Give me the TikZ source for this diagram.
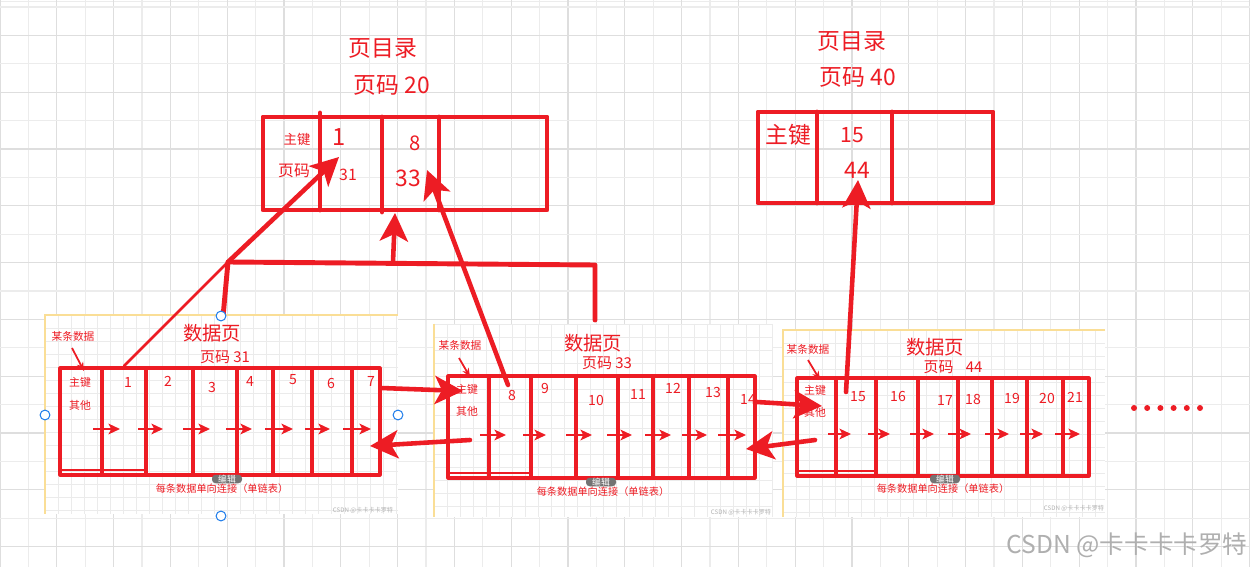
\documentclass[tikz,border=0pt]{standalone}
\usepackage{fontspec}
\setmainfont{Noto Sans CJK SC}
\usetikzlibrary{arrows.meta,positioning}
\definecolor{pen}{RGB}{237,28,36}
\definecolor{gridlight}{RGB}{236,236,236}
\definecolor{griddark}{RGB}{222,222,222}
\definecolor{panelgrid}{RGB}{235,235,235}
\definecolor{panelrim}{RGB}{250,222,150}
\definecolor{handleblue}{RGB}{40,130,235}
\definecolor{credit}{RGB}{175,175,175}
\newcommand{\fs}[1]{\fontsize{#1}{#1}\selectfont}

\begin{document}
\begin{tikzpicture}[
    x=0.02cm, y=-0.02cm,
    lbl/.style={text=pen, inner sep=0pt, font=\fs{#1}},
    dirline/.style={draw=pen, line width=2.8pt, line join=round, line cap=round},
    cellline/.style={draw=pen, line width=1.8pt, line join=round},
    bigarrow/.style={draw=pen, line width=2.6pt, line cap=round, -{Stealth[length=16pt, width=16pt, inset=4pt]}},
    linkarrow/.style={draw=pen, line width=1.3pt, -{Stealth[length=6.5pt, width=6pt, inset=1.5pt]}},
    pointer/.style={draw=pen, line width=1pt, -{Stealth[length=5pt, width=4pt]}},
    editbtn/.style={fill=black!55, text=white, rounded corners=2pt, inner sep=0pt, minimum width=0.6cm, minimum height=0.17cm, font=\fs{5}},
    handle/.style={draw=handleblue, fill=white, line width=0.6pt},
    tinymark/.style={text=black!30, inner sep=0pt, font=\fs{3.5}}
]
\useasboundingbox (0,0) rectangle (1250,567);
\fill[white] (0,0) rectangle (1250,567);

% whiteboard grid
\draw[gridlight, line width=0.6pt] (0,1.5) -- (1250,1.5);
\foreach \i in {0,...,44}
  \draw[gridlight, line width=0.6pt] (\i*28.4,0) -- (\i*28.4,567);
\foreach \i in {0,2,...,44}
  \draw[griddark, line width=0.6pt] (\i*28.4,0) -- (\i*28.4,567);
\foreach \j in {0,...,20}
  \draw[gridlight, line width=0.6pt] (0,7+\j*28.4) -- (1250,7+\j*28.4);
\foreach \j in {1,3,...,19}
  \draw[griddark, line width=0.6pt] (0,7+\j*28.4) -- (1250,7+\j*28.4);

% pasted data page panels
\foreach \l/\t/\r/\b in {45/315/398/514, 434/324/773/517, 783/330/1105/517} {
  \fill[white] (\l,\t) rectangle (\r,\b);
  \begin{scope}
    \clip (\l,\t) rectangle (\r,\b);
    \foreach \k in {0,...,28}
      \draw[panelgrid, line width=0.5pt] (\l+\k*13,\t) -- (\l+\k*13,\b);
    \foreach \k in {0,...,16}
      \draw[panelgrid, line width=0.5pt] (\l,\t+\k*13) -- (\r,\t+\k*13);
  \end{scope}
}
\draw[panelrim, line width=0.8pt] (398,315) -- (45,315) -- (45,514);
\draw[panelrim, line width=0.8pt] (434,324) -- (434,517);
\draw[panelrim, line width=0.8pt] (1105,330) -- (783,330) -- (783,517);

% page directory, page 20
\node[lbl=13] (dir20title) at (383,48) {页目录};
\node[lbl=13] (dir20code) at (392,85) {页码 20};
\draw[dirline] (263,117) rectangle (547,210);
\draw[dirline] (320,113) -- (320,210);
\draw[dirline] (382,117) -- (382,212);
\draw[dirline] (439,117) -- (439,210);
\node[lbl=7.6] (dir20key) at (297,139) {主键};
\node[lbl=9] (dir20page) at (294,171) {页码};
\node[lbl=13.5] (dir20k1) at (339,137) {1};
\node[lbl=9] (dir20p1) at (348,175) {31};
\node[lbl=11.5] (dir20k2) at (415,143) {8};
\node[lbl=13] (dir20p2) at (408,178) {33};

% page directory, page 40
\node[lbl=13] (dir40title) at (852,41) {页目录};
\node[lbl=13] (dir40code) at (858,77) {页码 40};
\draw[dirline] (758,112) rectangle (993,203);
\draw[dirline] (817,112) -- (817,203);
\draw[dirline] (892,112) -- (892,203);
\node[lbl=13] (dir40key) at (788,135) {主键};
\node[lbl=12] (dir40k1) at (852,135) {15};
\node[lbl=13] (dir40p1) at (857,170) {44};

% data page 31
\node[lbl=6.1] (p31note) at (73,336) {某条数据};
\node[lbl=11] (p31title) at (212,333) {数据页};
\node[lbl=8.5] (p31code) at (225,357) {页码 31};
\draw[cellline] (60,368) rectangle (380,475);
\foreach \x in {102,146,193,237,273,312,352}
  \draw[cellline] (\x,368) -- (\x,473);
\draw[pen, line width=1pt] (60,470) -- (146,470);
\node[lbl=6.2] (p31key) at (80,382) {主键};
\node[lbl=6.2] (p31other) at (80,405) {其他};
\foreach \n/\x/\y in {1/128/382, 2/168/381, 3/212/387, 4/250/381, 5/293/380, 6/331/383, 7/371/381}
  \node[lbl=8] (p31n\n) at (\x,\y) {\n};
\foreach \a/\b in {93/120, 138/163, 183/210, 226/252, 265/293, 305/330, 343/371}
  \draw[linkarrow] (\a,429) -- (\b,429);
\draw[pointer] (72,348) -- (84,371);
\node[lbl=5.8] (p31chain) at (222,489) {每条数据单向连接（单链表）};
\node[editbtn] (p31edit) at (227,479) {编辑};
\node[tinymark] (p31mark) at (363,510) {CSDN @卡卡卡卡罗特};

% data page 33
\node[lbl=6.1] (p33note) at (460,345) {某条数据};
\node[lbl=11] (p33title) at (593,343) {数据页};
\node[lbl=8.5] (p33code) at (607,363) {页码 33};
\draw[cellline] (448,376) rectangle (755,478);
\foreach \x in {489,531,576,618,653,689,728}
  \draw[cellline] (\x,376) -- (\x,476);
\draw[pen, line width=1pt] (448,473) -- (530,473);
\node[lbl=6.2] (p33key) at (467,389) {主键};
\node[lbl=6.2] (p33other) at (467,411) {其他};
\foreach \n/\x/\y in {8/512/395, 9/545/388, 10/596/400, 11/638/394, 12/673/388, 13/713/392, 14/748/399}
  \node[lbl=8] (p33n\n) at (\x,\y) {\n};
\foreach \a/\b in {480/506, 523/546, 566/592, 607/632, 645/671, 682/707, 718/746}
  \draw[linkarrow] (\a,435) -- (\b,435);
\draw[pointer] (459,358) -- (470,377);
\node[lbl=5.8] (p33chain) at (603,492) {每条数据单向连接（单链表）};
\node[editbtn] (p33edit) at (601,482) {编辑};
\node[tinymark] (p33mark) at (741,512) {CSDN @卡卡卡卡罗特};

% data page 44
\node[lbl=6.1] (p44note) at (808,349) {某条数据};
\node[lbl=11] (p44title) at (935,347) {数据页};
\node[lbl=8.5] (p44code) at (953,367) {页码\hspace{7pt}44};
\draw[cellline] (797,378) rectangle (1089,476);
\foreach \x in {836,876,918,958,992,1027,1063}
  \draw[cellline] (\x,378) -- (\x,474);
\draw[pen, line width=1pt] (797,471) -- (874,471);
\node[lbl=6.2] (p44key) at (815,390) {主键};
\node[lbl=6.2] (p44other) at (815,412) {其他};
\foreach \n/\x/\y in {15/858/397, 16/898/396, 17/945/400, 18/973/399, 19/1012/398, 20/1047/398, 21/1075/397}
  \node[lbl=8] (p44n\n) at (\x,\y) {\n};
\foreach \a/\b in {828/851, 868/890, 910/934, 948/971, 985/1009, 1020/1043, 1055/1080}
  \draw[linkarrow] (\a,434) -- (\b,434);
\draw[pointer] (808,360) -- (820,380);
\node[lbl=5.8] (p44chain) at (943,489) {每条数据单向连接（单链表）};
\node[editbtn] (p44edit) at (945,479) {编辑};
\node[tinymark] (p44mark) at (1074,508) {CSDN @卡卡卡卡罗特};

% more pages
\foreach \d in {0,...,5}
  \fill[pen] (1134+\d*13.2,408) circle (1.7pt);

% links up to the directory
\coordinate (p31start) at (124,366);
\coordinate (p31bend) at (228,262);
\coordinate (k1tip) at (339,157);
\draw[pen, line width=1.6pt, line cap=round] (p31start) -- (p31bend);
\draw[bigarrow] (p31bend) -- (k1tip);

\coordinate (p31top) at (223,317);
\coordinate (p33top) at (595,320);
\draw[dirline] (p31top) -- (p31bend) -- (595,265) -- (p33top);
\coordinate (joinup) at (393,262);
\coordinate (joinup tip) at (395,213);
\draw[bigarrow] (joinup) -- (joinup tip);

\coordinate (p33start) at (508,385);
\coordinate (k8tip) at (427,170);
\draw[bigarrow] (p33start) -- (k8tip);

\coordinate (p44start) at (846,392);
\coordinate (k15tip) at (858,180);
\draw[bigarrow] (p44start) -- (k15tip);

% links between the data pages
\coordinate (p31out) at (381,388);
\coordinate (p33in) at (463,391);
\coordinate (p33back) at (470,440);
\coordinate (p31in) at (370,446);
\draw[bigarrow] (p31out) -- (p33in);
\draw[bigarrow] (p33back) -- (p31in);
\coordinate (p33out) at (757,402);
\coordinate (p44in) at (822,406);
\coordinate (p44back) at (815,440);
\coordinate (p33in2) at (746,449);
\draw[bigarrow] (p33out) -- (p44in);
\draw[bigarrow] (p44back) -- (p33in2);

% selection handles on the first panel
\foreach \hx/\hy in {45/415, 398/415, 221/316, 221/516}
  \draw[handle] (\hx,\hy) circle (2.8pt);

\node[text=credit, inner sep=0pt, font=\fs{14}] (credit) at (1127,545) {CSDN @卡卡卡卡罗特};
\end{tikzpicture}
\end{document}
